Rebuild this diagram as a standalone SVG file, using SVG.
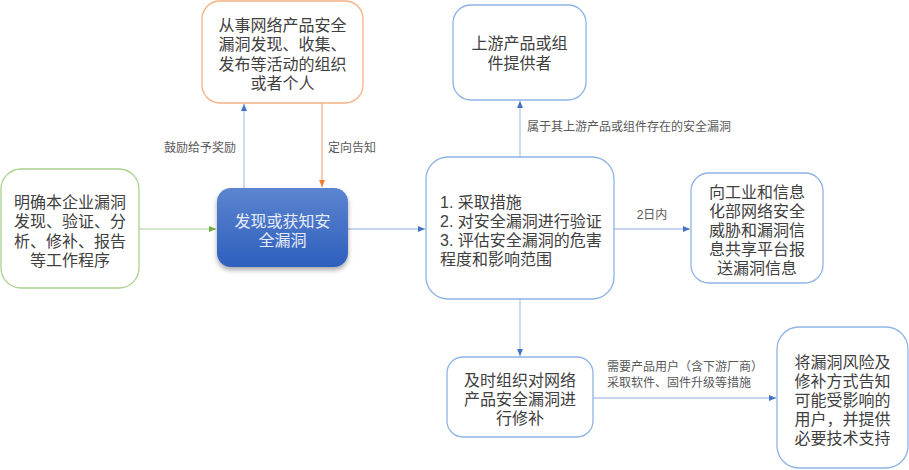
<svg xmlns="http://www.w3.org/2000/svg" width="909" height="470" viewBox="0 0 909 470">
<style>
.t{font-family:"Liberation Sans","Noto Sans CJK SC",sans-serif;font-size:16px;fill:#404040;text-anchor:middle}
.tl{text-anchor:start}
.lb{font-family:"Liberation Sans","Noto Sans CJK SC",sans-serif;font-size:12px;fill:#595959}
.box{fill:#fff;stroke:#8fb4e3;stroke-width:1.3}
.c{fill:none;stroke:#b4c7e7;stroke-width:1.3}
</style>
<defs>
<linearGradient id="g" x1="0" y1="0" x2="0" y2="1">
<stop offset="0" stop-color="#5c84cf"/>
<stop offset="1" stop-color="#2e5fbd"/>
</linearGradient>
<filter id="sh" x="-20%" y="-20%" width="140%" height="150%">
<feDropShadow dx="0" dy="3" stdDeviation="2.5" flood-color="#000" flood-opacity="0.35"/>
</filter>
<marker id="ab" markerWidth="8" markerHeight="8" refX="7" refY="4" orient="auto" markerUnits="userSpaceOnUse">
<path d="M0,1 L7,4 L0,7 Z" fill="#4472c4"/>
</marker>
<marker id="ag" markerWidth="8" markerHeight="8" refX="7" refY="4" orient="auto" markerUnits="userSpaceOnUse">
<path d="M0,1 L7,4 L0,7 Z" fill="#70ad47"/>
</marker>
<marker id="ao" markerWidth="8" markerHeight="8" refX="7" refY="4" orient="auto" markerUnits="userSpaceOnUse">
<path d="M0,1 L7,4 L0,7 Z" fill="#ed7d31"/>
</marker>
</defs>
<g id="connectors">
<line x1="139" y1="229" x2="216" y2="229" stroke="#c5e0b4" stroke-width="1.3" marker-end="url(#ag)"/>
<line x1="244" y1="188" x2="244" y2="104" class="c" marker-end="url(#ab)"/>
<line x1="322" y1="103" x2="322" y2="187" stroke="#f4b183" stroke-width="1.3" marker-end="url(#ao)"/>
<line x1="348" y1="229" x2="425" y2="229" class="c" marker-end="url(#ab)"/>
<line x1="520" y1="157" x2="520" y2="101" class="c" marker-end="url(#ab)"/>
<line x1="614" y1="229" x2="690" y2="229" class="c" marker-end="url(#ab)"/>
<line x1="520" y1="299" x2="520" y2="356" class="c" marker-end="url(#ab)"/>
<line x1="593" y1="398" x2="776" y2="398" class="c" marker-end="url(#ab)"/>
<text class="lb" x="200" y="152" text-anchor="middle">鼓励给予奖励</text>
<text class="lb" x="352" y="152" text-anchor="middle">定向告知</text>
<text class="lb" x="527" y="131">属于其上游产品或组件存在的安全漏洞</text>
<text class="lb" x="652" y="219" text-anchor="middle">2日内</text>
<text class="lb" x="607" y="371">需要产品用户（含下游厂商）<tspan x="607" dy="16">采取软件、固件升级等措施</tspan></text>
</g>
<g id="n1">
<rect x="1" y="169" width="138" height="119" rx="20" fill="#fff" stroke="#a9d18e" stroke-width="1.3"/>
<text class="t" x="70" y="208">明确本企业漏洞<tspan x="70" dy="19.3">发现、验证、分</tspan><tspan x="70" dy="19.3">析、修补、报告</tspan><tspan x="70" dy="19.3">等工作程序</tspan></text>
</g>
<g id="n2">
<rect x="217" y="188" width="131" height="79" rx="14" fill="url(#g)" filter="url(#sh)"/>
<text class="t" x="282.5" y="227" style="fill:#e6ecf7">发现或获知安<tspan x="282.5" dy="19">全漏洞</tspan></text>
</g>
<g id="n3">
<rect x="202" y="1" width="161" height="102" rx="18" fill="#fff" stroke="#f4b183" stroke-width="1.3"/>
<text class="t" x="282.5" y="31">从事网络产品安全<tspan x="282.5" dy="19.3">漏洞发现、收集、</tspan><tspan x="282.5" dy="19.3">发布等活动的组织</tspan><tspan x="282.5" dy="19.3">或者个人</tspan></text>
</g>
<g id="n4">
<rect class="box" x="426" y="157" width="188" height="142" rx="22"/>
<text class="t tl" x="440" y="208">1. 采取措施<tspan x="440" dy="19">2. 对安全漏洞进行验证</tspan><tspan x="440" dy="19">3. 评估安全漏洞的危害</tspan><tspan x="440" dy="19">程度和影响范围</tspan></text>
</g>
<g id="n5">
<rect class="box" x="453" y="5" width="133" height="95" rx="18"/>
<text class="t" x="519.5" y="49">上游产品或组<tspan x="519.5" dy="20">件提供者</tspan></text>
</g>
<g id="n6">
<rect class="box" x="691" y="173" width="132" height="110" rx="18"/>
<text class="t" x="757" y="198">向工业和信息<tspan x="757" dy="19">化部网络安全</tspan><tspan x="757" dy="19">威胁和漏洞信</tspan><tspan x="757" dy="19">息共享平台报</tspan><tspan x="757" dy="19">送漏洞信息</tspan></text>
</g>
<g id="n7">
<rect class="box" x="447" y="357" width="146" height="80" rx="16"/>
<text class="t" x="520" y="386">及时组织对网络<tspan x="520" dy="19">产品安全漏洞进</tspan><tspan x="520" dy="19">行修补</tspan></text>
</g>
<g id="n8">
<rect class="box" x="777" y="327" width="131" height="141" rx="22"/>
<text class="t" x="842.5" y="368">将漏洞风险及<tspan x="842.5" dy="19">修补方式告知</tspan><tspan x="842.5" dy="19">可能受影响的</tspan><tspan x="842.5" dy="19">用户，并提供</tspan><tspan x="842.5" dy="19">必要技术支持</tspan></text>
</g>
</svg>
